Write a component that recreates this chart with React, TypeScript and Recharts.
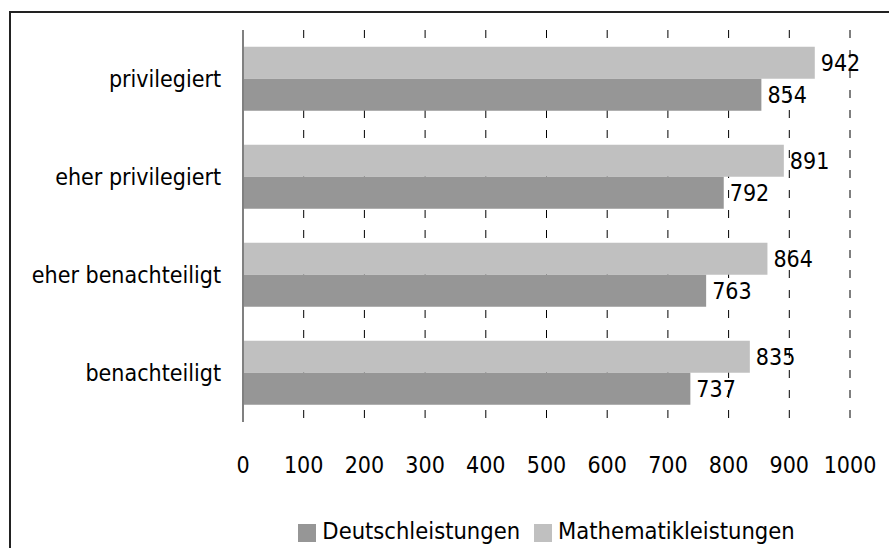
import React from 'react';
import { BarChart, Bar, XAxis, YAxis, CartesianGrid, Legend, LabelList } from 'recharts';

const categories = ['privilegiert', 'eher privilegiert', 'eher benachteiligt', 'benachteiligt'];
const deutsch = [854, 792, 763, 737];
const mathe = [942, 891, 864, 835];
const xTicks = [0, 100, 200, 300, 400, 500, 600, 700, 800, 900, 1000];
const seriesNames = ['Deutschleistungen', 'Mathematikleistungen'];
const seriesColors = ['#969696', '#c0c0c0'];

const data = categories.map((name, i) => ({ name, deutsch: deutsch[i], mathe: mathe[i] }));

const FONT = '"DejaVu Sans Condensed", "DejaVu Sans", sans-serif';
const FS = 23;

const LegendContent = () => (
  <div
    style={{
      display: 'flex',
      justifyContent: 'center',
      alignItems: 'center',
      height: 30,
      fontFamily: FONT,
      fontStretch: 'condensed',
      fontSize: 23.5,
      color: '#000',
      paddingLeft: 243,
    }}
  >
    {seriesNames.map((n, i) => (
      <span key={n} style={{ display: 'flex', alignItems: 'center', marginRight: i === 0 ? 14 : 0 }}>
        <span style={{ width: 18, height: 18, background: seriesColors[i], display: 'inline-block', marginRight: 6, marginTop: 4 }} />
        {n}
      </span>
    ))}
  </div>
);

export default function App() {
  return (
    <div style={{ position: 'absolute', left: 0, top: 0, width: 889, height: 548, overflow: 'hidden', background: '#fff' }}>
      <div
        style={{
          position: 'absolute',
          left: 9,
          top: 11,
          width: 920,
          height: 600,
          border: '2px solid #222',
        }}
      />
      <div style={{ position: 'absolute', left: 0, top: 0 }}>
        <BarChart
          width={889}
          height={548}
          data={data}
          layout="vertical"
          margin={{ top: 30, right: 39, left: 0, bottom: 2 }}
          barCategoryGap="17%"
          barGap={0}
        >
          <CartesianGrid horizontal={false} stroke="#000" strokeDasharray="8 12" />
          <XAxis
            type="number"
            domain={[0, 1000]}
            ticks={xTicks}
            interval={0}
            axisLine={false}
            tickLine={false}
            tickSize={0}
            tickMargin={35}
            height={94}
            tick={{ fill: '#000', fontSize: FS, fontFamily: FONT, fontStretch: 'condensed' }}
          />
          <YAxis
            type="category"
            dataKey="name"
            width={243}
            axisLine={{ stroke: '#808080', strokeWidth: 2 }}
            tickLine={false}
            tickSize={0}
            tickMargin={22}
            tick={{ fill: '#000', fontSize: FS, fontFamily: FONT, fontStretch: 'condensed' }}
          />
          <Legend verticalAlign="bottom" height={30} content={<LegendContent />} />
          <Bar dataKey="mathe" name={seriesNames[1]} fill={seriesColors[1]} isAnimationActive={false}>
            <LabelList dataKey="mathe" position="right" offset={6} fill="#000" fontSize={FS} fontFamily={FONT} fontStretch="condensed" />
          </Bar>
          <Bar dataKey="deutsch" name={seriesNames[0]} fill={seriesColors[0]} isAnimationActive={false}>
            <LabelList dataKey="deutsch" position="right" offset={6} fill="#000" fontSize={FS} fontFamily={FONT} fontStretch="condensed" />
          </Bar>
        </BarChart>
      </div>
    </div>
  );
}
